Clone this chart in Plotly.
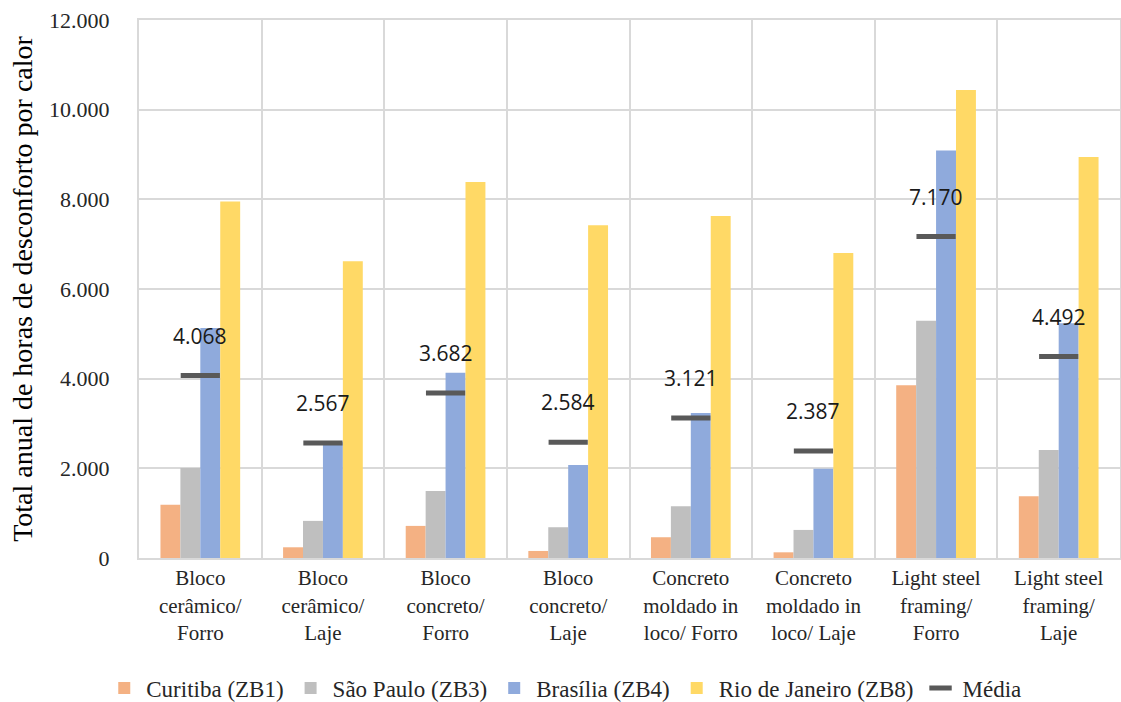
import plotly.graph_objects as go

categorias = [
    "Bloco<br>cerâmico/<br>Forro",
    "Bloco<br>cerâmico/<br>Laje",
    "Bloco<br>concreto/<br>Forro",
    "Bloco<br>concreto/<br>Laje",
    "Concreto<br>moldado in<br>loco/ Forro",
    "Concreto<br>moldado in<br>loco/ Laje",
    "Light steel<br>framing/<br>Forro",
    "Light steel<br>framing/<br>Laje",
]

curitiba = [1186, 239, 716, 157, 463, 127, 3855, 1380]
sao_paulo = [2006, 828, 1492, 686, 1156, 626, 5294, 2409]
brasilia = [5130, 2580, 4132, 2073, 3236, 1991, 9090, 5235]
rio = [7950, 6621, 8388, 7420, 7629, 6804, 10441, 8944]
media = [4068, 2567, 3682, 2584, 3121, 2387, 7170, 4492]

series = [
    ("Curitiba (ZB1)", curitiba, "#F4B183"),
    ("São Paulo (ZB3)", sao_paulo, "#BFBFBF"),
    ("Brasília (ZB4)", brasilia, "#8FAADC"),
    ("Rio de Janeiro (ZB8)", rio, "#FFD966"),
]

serif = "Liberation Serif"
grade = "#D9D9D9"

fig = go.Figure()
for nome, valores, cor in series:
    fig.add_trace(go.Bar(
        name=nome, x=categorias, y=valores,
        marker=dict(color=cor, line=dict(width=0)),
    ))

fig.add_trace(go.Scatter(
    name="Média", x=categorias, y=media, mode="markers",
    marker=dict(symbol="line-ew", size=28, color="#595959",
                line=dict(color="#595959", width=5)),
))

# value labels for the averages, placed above each dash
for cat, v in zip(categorias, media):
    fig.add_annotation(
        x=cat, y=v, yshift=40, showarrow=False,
        text=f"{v:,}".replace(",", "."),
        font=dict(family="Open Sans", size=21, color="#1a1a1a"),
    )

fig.update_layout(
    width=1121, height=702,
    margin=dict(l=139, r=1, t=20, b=144, autoexpand=False),
    paper_bgcolor="white", plot_bgcolor="white",
    barmode="group", bargap=0.35, bargroupgap=0,
    separators=",.",
    font=dict(family=serif, color="#262626"),
    showlegend=True,
    legend=dict(
        orientation="h", x=0.434, xanchor="center", y=-0.2416, yanchor="middle",
        font=dict(family=serif, size=23, color="#262626"),
        itemwidth=34, traceorder="normal",
    ),
)

fig.update_xaxes(
    type="category", tickson="boundaries", automargin=False,
    range=[-0.5, len(categorias) - 0.5],
    showgrid=True, gridcolor=grade, gridwidth=2,
    showline=True, linecolor=grade, linewidth=2, mirror=True,
    ticks="outside", ticklen=27, tickcolor="rgba(0,0,0,0)",
    tickfont=dict(family=serif, size=21, color="#262626"),
)

fig.update_yaxes(
    range=[0, 12000], dtick=2000, tickformat=",d", automargin=False,
    showgrid=True, gridcolor=grade, gridwidth=2,
    zeroline=False, showline=True, linecolor=grade, linewidth=2, mirror=True,
    ticks="outside", ticklen=23, tickcolor="rgba(0,0,0,0)",
    tickfont=dict(family=serif, size=22, color="#262626"),
    title=dict(text="Total anual de horas de desconforto por calor",
               font=dict(family=serif, size=28, color="#000000"), standoff=8),
)

fig.write_html("out.html")
